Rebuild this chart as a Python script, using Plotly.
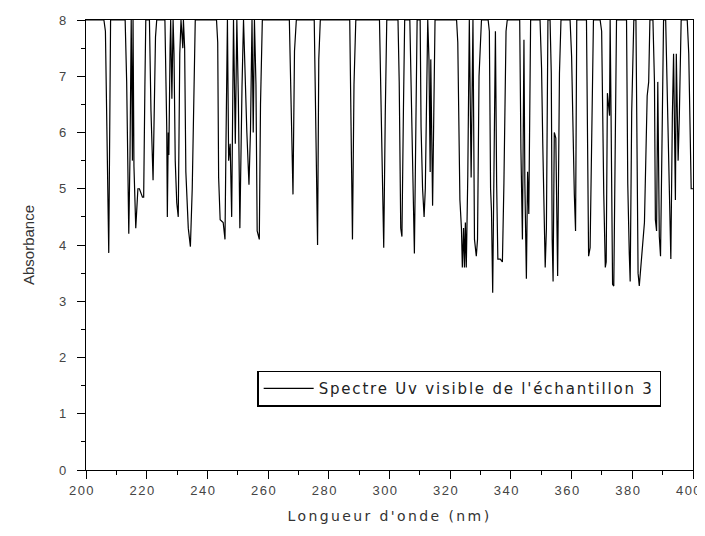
import plotly.graph_objects as go

# Wavelength (nm) and absorbance (saturated at 8 between dips)
wavelength = [
    200.0,
    205.9, 206.4, 207.1, 207.5, 208.1,
    212.9, 213.4, 213.9, 214.1, 214.5, 214.9, 215.3, 215.5, 215.8, 216.4, 217.1, 217.6, 218.6, 219.0, 219.4, 219.7,
    220.9, 221.4, 222.1, 222.4, 222.9, 223.3,
    226.0, 226.6, 226.8, 227.1, 227.3, 227.7, 227.9, 228.3, 228.7, 229.0, 229.4, 229.9, 230.4, 230.9, 231.3, 231.9,
    232.1, 232.5, 232.9, 233.7, 234.4, 235.0, 235.5, 236.0,
    243.0, 243.4, 243.7, 244.2, 245.2, 245.8, 246.1, 246.6, 247.0, 247.5, 248.0, 248.6, 249.2, 249.7, 250.2, 250.7,
    251.4, 251.9, 253.0, 253.7, 254.2, 254.7, 255.1, 255.5, 256.0, 256.4, 257.1, 257.5, 258.1,
    267.0, 267.6, 268.0, 268.2, 268.7, 269.3,
    275.2, 275.7, 276.1, 276.3, 276.7, 277.2,
    286.9, 287.3, 287.8, 288.3, 288.9,
    296.7, 297.1, 297.5, 298.1, 298.6, 299.1,
    302.8, 303.2, 303.7, 304.1, 304.6, 305.0,
    306.7, 307.1, 307.4, 308.2, 308.7, 309.1,
    310.1, 310.4, 310.9, 311.4, 311.8, 312.3, 312.6, 313.0, 313.4, 313.6, 314.2, 314.6, 315.0,
    322.1, 322.5, 323.2, 323.7, 324.0, 324.4, 324.7, 325.0, 325.3, 325.8, 326.3, 326.9, 327.5, 328.0, 328.6, 329.0,
    329.5, 330.3,
    332.5, 332.9, 333.3, 333.6, 334.0, 334.4, 334.9, 335.3, 335.7, 336.5, 337.2, 337.7, 338.4, 338.8,
    342.9, 343.3, 343.8, 344.3, 344.6, 345.1, 345.5, 345.9, 346.5,
    349.6, 350.1, 350.5, 350.9, 351.3, 351.7, 352.2, 352.9, 353.3, 353.6, 353.9, 354.3, 354.8, 355.4, 356.0, 356.5,
    359.5, 360.0, 360.4, 360.9, 361.3, 361.7,
    364.9, 365.2, 365.6, 366.1, 366.5, 367.2,
    369.4, 369.9, 370.6, 371.1, 371.4, 371.8, 372.5, 372.7, 373.0, 373.5, 373.9, 374.3, 374.8,
    378.1, 378.5, 379.0, 379.3, 379.8, 380.5, 381.2, 381.6, 381.9, 382.3, 382.9, 383.4, 384.0, 384.9, 385.4, 385.8,
    386.8, 387.3, 387.6, 388.0, 388.4, 388.9, 389.3, 389.9, 390.3,
    391.0, 391.8, 392.3, 392.7, 393.2, 393.6, 394.2, 394.5, 395.1, 395.5, 396.1,
    398.1, 398.6, 399.4, 400.0,
]
absorbance = [
    8,
    8, 7.8, 5.2, 3.86, 8,
    8, 6.9, 4.5, 4.2, 5.6, 8, 5.5, 8, 5.4, 4.3, 5.0, 5.0, 4.85, 4.85, 6.8, 8,
    8, 6.4, 5.15, 5.9, 7.7, 8,
    8, 6.1, 4.5, 6.0, 5.6, 7.5, 8, 6.6, 8, 7.4, 5.5, 4.75, 4.5, 7.4, 8, 7.5,
    8, 7.5, 5.3, 4.3, 3.97, 5.0, 6.5, 8,
    8, 7.6, 5.2, 4.45, 4.4, 4.1, 5.7, 8, 5.5, 5.8, 4.5, 8, 5.8, 8, 6.6, 4.3,
    6.8, 8, 6.0, 5.07, 6.05, 8, 6.0, 8, 6.85, 4.25, 4.1, 6.5, 8,
    8, 6.45, 5.4, 4.9, 7.45, 8,
    8, 6.0, 4.7, 4.0, 7.3, 8,
    8, 6.5, 4.1, 6.85, 8,
    8, 6.85, 6.3, 3.95, 6.3, 8,
    8, 6.9, 4.3, 4.15, 6.45, 8,
    8, 6.95, 6.15, 3.85, 6.15, 8,
    8, 6.1, 5.0, 4.5, 5.0, 6.55, 8, 7.3, 5.3, 7.3, 4.7, 6.35, 8,
    8, 7.6, 4.8, 4.3, 3.6, 4.3, 3.6, 4.4, 3.6, 5.25, 8, 5.2, 8, 4.1, 3.8, 4.1,
    7.0, 8,
    8, 7.8, 5.0, 4.6, 3.15, 5.15, 7.8, 5.1, 3.75, 3.75, 3.7, 5.1, 7.8, 8,
    8, 5.7, 4.1, 7.65, 5.1, 3.4, 5.3, 4.55, 8,
    8, 7.15, 5.8, 4.3, 3.6, 4.3, 8, 8, 7.05, 4.1, 3.35, 6.0, 5.9, 3.45, 7.05, 8,
    8, 7.35, 6.1, 4.9, 4.25, 8,
    8, 6.1, 3.8, 3.95, 5.6, 8,
    8, 7.8, 4.9, 3.6, 3.7, 6.7, 6.3, 8, 6.3, 3.3, 3.27, 5.6, 8,
    8, 5.1, 3.85, 3.35, 6.35, 8, 8, 5.2, 3.5, 3.27, 3.7, 4.05, 4.4, 6.65, 6.9, 8,
    8, 6.9, 4.45, 4.25, 6.9, 4.15, 3.8, 6.3, 8,
    8, 5.7, 4.65, 3.75, 6.3, 7.4, 4.8, 7.4, 5.5, 6.3, 8,
    8, 7.4, 5.0, 5.0,
]

x_tick_values = [200, 220, 240, 260, 280, 300, 320, 340, 360, 380, 400]
y_tick_values = [0, 1, 2, 3, 4, 5, 6, 7, 8]

series_name = "Spectre Uv visible de l'échantillon 3"
x_title = "Longueur d'onde (nm)"
y_title = "Absorbance"

FONT = "Liberation Sans, Arial, sans-serif"
WIDE = "DejaVu Sans, Liberation Sans, sans-serif"


def spaced(text, px):
    return '<span style="letter-spacing:%spx">%s</span>' % (px, text)


fig = go.Figure()
fig.add_trace(go.Scatter(
    x=wavelength, y=absorbance, mode="lines", name=spaced(series_name, 1.8),
    line=dict(color="black", width=1.2), showlegend=True,
))

axis_font = dict(family=FONT, size=13, color="#444444")

# page body has an 8px margin: figure shifted accordingly
fig.update_layout(
    width=697, height=520,
    margin=dict(l=78, r=12, t=12, b=58),
    paper_bgcolor="white", plot_bgcolor="white",
    showlegend=True,
    legend=dict(
        x=0.282, y=0.221, xanchor="left", yanchor="top",
        bordercolor="black", borderwidth=1.5, bgcolor="white",
        itemwidth=50,
        font=dict(family=WIDE, size=15, color="#222222"),
    ),
)
fig.update_xaxes(
    range=[200, 400], tickmode="array", tickvals=x_tick_values,
    ticktext=[spaced(str(v), 1.5) for v in x_tick_values],
    showline=True, linecolor="black", linewidth=1.2, mirror=True,
    ticks="outside", ticklen=8, tickwidth=1.2, tickcolor="black",
    minor=dict(dtick=10, tick0=200, ticks="outside", ticklen=4, tickcolor="black", tickwidth=1.2),
    showgrid=False, zeroline=False, automargin=False,
    ticklabeloverflow="allow", ticklabelshift=-4,
    tickfont=axis_font,
    title=dict(text=spaced(x_title, 2.4), font=dict(family=WIDE, size=14, color="#333333"), standoff=14),
)
fig.update_yaxes(
    range=[0, 8], tickmode="array", tickvals=y_tick_values,
    showline=True, linecolor="black", linewidth=1.2, mirror=True,
    ticks="outside", ticklen=8, tickwidth=1.2, tickcolor="black",
    minor=dict(dtick=0.5, tick0=0, ticks="outside", ticklen=4, tickcolor="black", tickwidth=1.2),
    showgrid=False, zeroline=False, automargin=False,
    ticklabelstandoff=8,
    tickfont=axis_font,
    title=dict(text=y_title, font=dict(family=FONT, size=15, color="#333333"), standoff=20),
)

fig.write_html("out.html")
